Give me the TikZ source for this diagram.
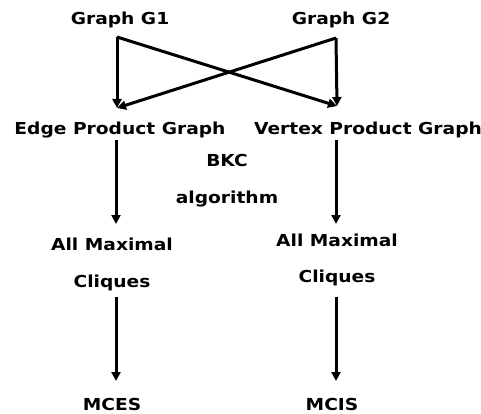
\documentclass[tikz,border=0pt]{standalone}
\usepackage{fontspec}
\setmainfont{DejaVu Sans}[FakeStretch=1.13]
\usetikzlibrary{arrows.meta}
\begin{document}
\begin{tikzpicture}[x=1pt,y=-1pt,
  lbl/.style={font=\bfseries\fontsize{16.5}{19}\selectfont, inner sep=0pt, anchor=base},
  flow/.style={line width=3pt, -{Triangle[length=9pt,width=9pt]}}]
\useasboundingbox (0,0) rectangle (481,414);
% labels (positioned by baseline)
\node[lbl] (g1) at (120,25) {Graph G1};
\node[lbl] (g2) at (341,25) {Graph G2};
\node[lbl] (epg) at (120,135) {Edge Product Graph};
\node[lbl] (vpg) at (368,135) {Vertex Product Graph};
\node[lbl] (bkc) at (227,167) {BKC};
\node[lbl] (alg) at (227,203) {algorithm};
\node[lbl] (am1) at (112,250) {All Maximal};
\node[lbl] (cq1) at (112,287) {Cliques};
\node[lbl] (am2) at (337,246) {All Maximal};
\node[lbl] (cq2) at (337,282) {Cliques};
\node[lbl] (mces) at (112,410) {MCES};
\node[lbl] (mcis) at (332,410) {MCIS};
% connector end points
\coordinate (s1) at (117,37);
\coordinate (s2) at (336,38);
\coordinate (t1) at (117,108);
\coordinate (t2) at (337,106);
% graphs to product graphs
\draw[flow] (s1) -- (t1);
\draw[flow] (s1) -- (t2);
\draw[flow] (s2) -- (t1);
\draw[flow] (s2) -- (t2);
% clique enumeration
\draw[flow] (116,140) -- (116,224);
\draw[flow] (336,140) -- (336,224);
% final step
\draw[flow] (116,297) -- (116,381);
\draw[flow] (336,297) -- (336,381);
\end{tikzpicture}
\end{document}
